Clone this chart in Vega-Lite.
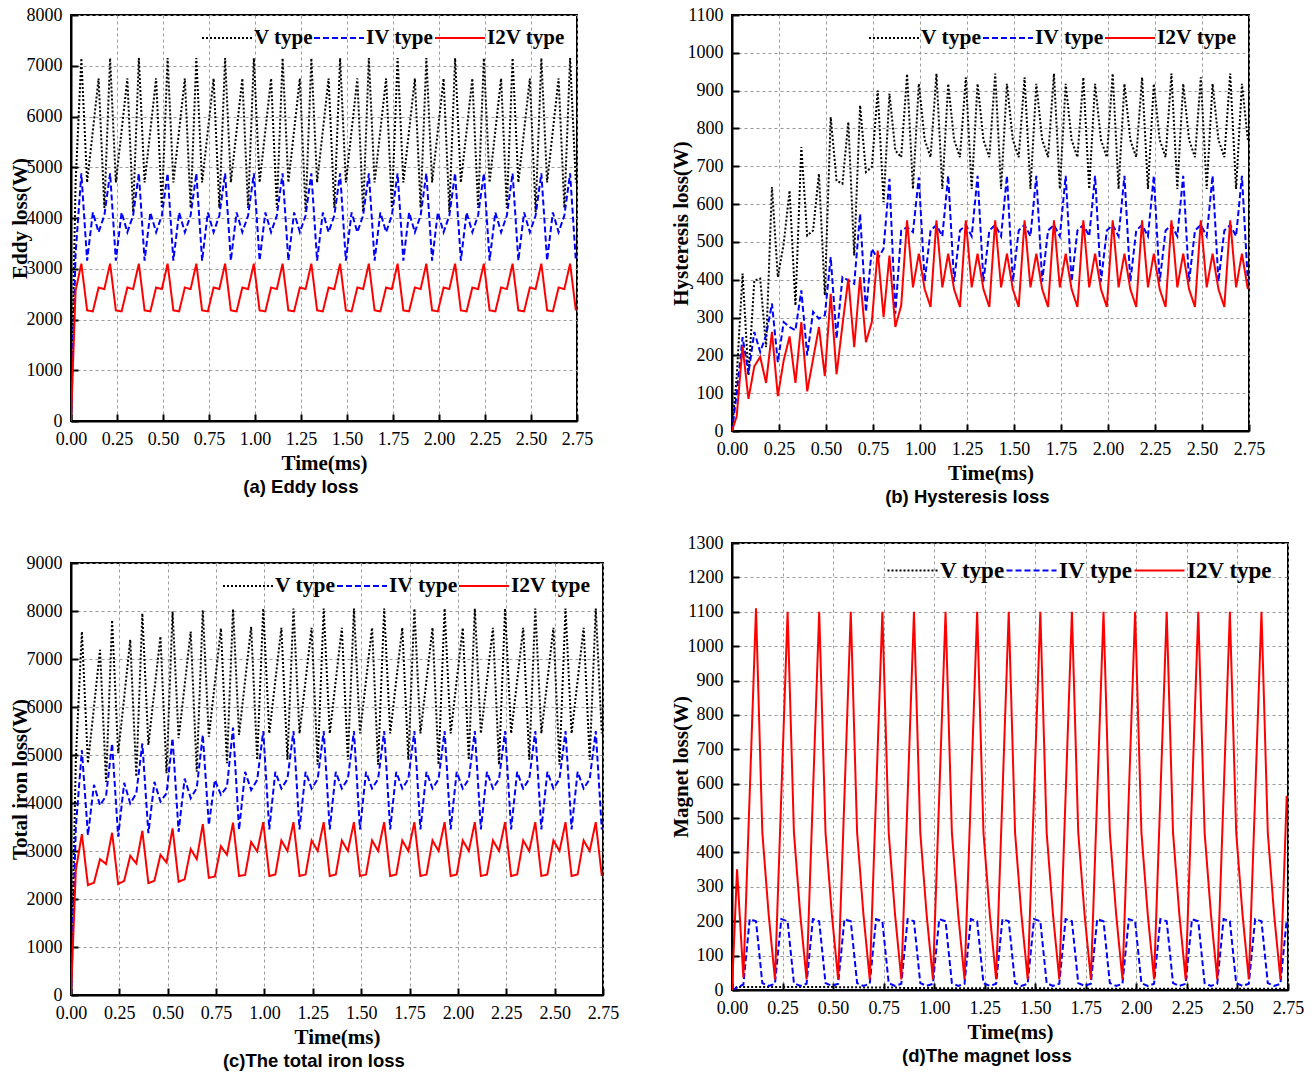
{
"$schema": "https://vega.github.io/schema/vega-lite/v6.json",
"background": "white",
"padding": {"top": 5, "left": 8, "right": 5, "bottom": 5},
"datasets": {"d": [
{"t":0,"aV":0,"aIV":0,"aI2V":0,"bV":0,"bIV":0,"bI2V":0,"cV":0,"cIV":0,"cI2V":0,"dV":0,"dIV":0,"dI2V":0},
{"t":0.025,"aV":4700,"aIV":3300,"aI2V":2570,"bV":143,"bIV":99,"bI2V":39,"cV":4900,"cIV":3500,"cI2V":2600,"dV":9,"dIV":7,"dI2V":351},
{"t":0.05625,"aV":7150,"aIV":4880,"aI2V":3100,"bV":416,"bIV":248,"bI2V":224,"cV":7570,"cIV":5100,"cI2V":3350,"dV":9,"dIV":16,"dI2V":36},
{"t":0.0875,"aV":4700,"aIV":3160,"aI2V":2180,"bV":147,"bIV":152,"bI2V":85,"cV":4830,"cIV":3330,"cI2V":2290,"dV":9,"dIV":206,"dI2V":570},
{"t":0.11875,"aV":5720,"aIV":4110,"aI2V":2160,"bV":398,"bIV":262,"bI2V":171,"cV":6000,"cIV":4380,"cI2V":2340,"dV":9,"dIV":200,"dI2V":1110},
{"t":0.15,"aV":6750,"aIV":3720,"aI2V":2630,"bV":403,"bIV":209,"bI2V":196,"cV":7190,"cIV":3950,"cI2V":2830,"dV":9,"dIV":20,"dI2V":458},
{"t":0.18125,"aV":4200,"aIV":4050,"aI2V":2600,"bV":222,"bIV":253,"bI2V":127,"cV":4440,"cIV":4150,"cI2V":2730,"dV":9,"dIV":12,"dI2V":220},
{"t":0.2125,"aV":7150,"aIV":4880,"aI2V":3100,"bV":645,"bIV":337,"bI2V":262,"cV":7810,"cIV":5240,"cI2V":3380,"dV":9,"dIV":18,"dI2V":31},
{"t":0.24375,"aV":4700,"aIV":3160,"aI2V":2180,"bV":407,"bIV":182,"bI2V":92,"cV":5040,"cIV":3300,"cI2V":2310,"dV":9,"dIV":206,"dI2V":565},
{"t":0.275,"aV":5720,"aIV":4110,"aI2V":2160,"bV":495,"bIV":288,"bI2V":187,"cV":6200,"cIV":4420,"cI2V":2380,"dV":9,"dIV":200,"dI2V":1100},
{"t":0.30625,"aV":6750,"aIV":3720,"aI2V":2630,"bV":636,"bIV":275,"bI2V":250,"cV":7400,"cIV":3990,"cI2V":2900,"dV":9,"dIV":20,"dI2V":458},
{"t":0.3375,"aV":4120,"aIV":4050,"aI2V":2600,"bV":332,"bIV":266,"bI2V":127,"cV":4550,"cIV":4200,"cI2V":2740,"dV":9,"dIV":12,"dI2V":220},
{"t":0.36875,"aV":7150,"aIV":4880,"aI2V":3100,"bV":751,"bIV":372,"bI2V":288,"cV":7950,"cIV":5240,"cI2V":3420,"dV":9,"dIV":18,"dI2V":31},
{"t":0.4,"aV":4700,"aIV":3160,"aI2V":2180,"bV":517,"bIV":200,"bI2V":105,"cV":5210,"cIV":3370,"cI2V":2330,"dV":9,"dIV":206,"dI2V":565},
{"t":0.43125,"aV":5720,"aIV":4110,"aI2V":2160,"bV":530,"bIV":315,"bI2V":190,"cV":6350,"cIV":4440,"cI2V":2380,"dV":9,"dIV":200,"dI2V":1100},
{"t":0.4625,"aV":6750,"aIV":3720,"aI2V":2630,"bV":680,"bIV":297,"bI2V":275,"cV":7470,"cIV":4030,"cI2V":2920,"dV":9,"dIV":20,"dI2V":458},
{"t":0.49375,"aV":4200,"aIV":4050,"aI2V":2600,"bV":359,"bIV":306,"bI2V":145,"cV":4620,"cIV":4200,"cI2V":2760,"dV":9,"dIV":12,"dI2V":220},
{"t":0.525,"aV":7150,"aIV":4880,"aI2V":3100,"bV":830,"bIV":460,"bI2V":363,"cV":7990,"cIV":5350,"cI2V":3470,"dV":8,"dIV":18,"dI2V":31},
{"t":0.55625,"aV":4700,"aIV":3160,"aI2V":2180,"bV":662,"bIV":244,"bI2V":150,"cV":5350,"cIV":3400,"cI2V":2360,"dV":8,"dIV":206,"dI2V":565},
{"t":0.5875,"aV":5720,"aIV":4110,"aI2V":2160,"bV":654,"bIV":407,"bI2V":280,"cV":6450,"cIV":4510,"cI2V":2410,"dV":8,"dIV":200,"dI2V":1100},
{"t":0.61875,"aV":6750,"aIV":3720,"aI2V":2630,"bV":817,"bIV":398,"bI2V":403,"cV":7570,"cIV":4100,"cI2V":3040,"dV":8,"dIV":20,"dI2V":458},
{"t":0.65,"aV":4200,"aIV":4050,"aI2V":2600,"bV":464,"bIV":389,"bI2V":222,"cV":4650,"cIV":4310,"cI2V":2830,"dV":7,"dIV":12,"dI2V":220},
{"t":0.68125,"aV":7150,"aIV":4880,"aI2V":3100,"bV":861,"bIV":574,"bI2V":407,"cV":8020,"cIV":5420,"cI2V":3560,"dV":7,"dIV":18,"dI2V":31},
{"t":0.7125,"aV":4700,"aIV":3160,"aI2V":2180,"bV":685,"bIV":315,"bI2V":235,"cV":5380,"cIV":3540,"cI2V":2440,"dV":7,"dIV":206,"dI2V":565},
{"t":0.74375,"aV":5720,"aIV":4110,"aI2V":2160,"bV":698,"bIV":482,"bI2V":288,"cV":6500,"cIV":4480,"cI2V":2470,"dV":7,"dIV":200,"dI2V":1100},
{"t":0.775,"aV":6750,"aIV":3720,"aI2V":2630,"bV":900,"bIV":455,"bI2V":477,"cV":7640,"cIV":4170,"cI2V":3100,"dV":7,"dIV":20,"dI2V":458},
{"t":0.80625,"aV":4200,"aIV":4050,"aI2V":2600,"bV":605,"bIV":482,"bI2V":301,"cV":4830,"cIV":4340,"cI2V":2920,"dV":7,"dIV":12,"dI2V":220},
{"t":0.8375,"aV":7150,"aIV":4880,"aI2V":3100,"bV":892,"bIV":667,"bI2V":464,"cV":8040,"cIV":5570,"cI2V":3590,"dV":6,"dIV":18,"dI2V":31},
{"t":0.86875,"aV":4700,"aIV":3160,"aI2V":2180,"bV":742,"bIV":310,"bI2V":275,"cV":5420,"cIV":3440,"cI2V":2480,"dV":6,"dIV":206,"dI2V":565},
{"t":0.9,"aV":5720,"aIV":4110,"aI2V":2160,"bV":724,"bIV":530,"bI2V":332,"cV":6550,"cIV":4650,"cI2V":2500,"dV":6,"dIV":200,"dI2V":1100},
{"t":0.93125,"aV":6750,"aIV":3720,"aI2V":2630,"bV":944,"bIV":539,"bI2V":557,"cV":7670,"cIV":4270,"cI2V":3190,"dV":6,"dIV":20,"dI2V":458},
{"t":0.9625,"aV":4200,"aIV":4050,"aI2V":2600,"bV":640,"bIV":526,"bI2V":380,"cV":4900,"cIV":4480,"cI2V":2990,"dV":6,"dIV":12,"dI2V":220},
{"t":0.99375,"aV":7150,"aIV":4880,"aI2V":3100,"bV":918,"bIV":671,"bI2V":469,"cV":8050,"cIV":5500,"cI2V":3600,"dV":6,"dIV":18,"dI2V":31},
{"t":1.025,"aV":4700,"aIV":3160,"aI2V":2180,"bV":770,"bIV":395,"bI2V":375,"cV":5450,"cIV":3450,"cI2V":2480,"dV":5,"dIV":206,"dI2V":565},
{"t":1.05625,"aV":5720,"aIV":4110,"aI2V":2160,"bV":724,"bIV":530,"bI2V":328,"cV":6550,"cIV":4650,"cI2V":2510,"dV":5,"dIV":200,"dI2V":1100},
{"t":1.0875,"aV":6750,"aIV":3720,"aI2V":2630,"bV":945,"bIV":545,"bI2V":557,"cV":7650,"cIV":4300,"cI2V":3220,"dV":5,"dIV":20,"dI2V":458},
{"t":1.11875,"aV":4200,"aIV":4050,"aI2V":2600,"bV":640,"bIV":515,"bI2V":380,"cV":4900,"cIV":4500,"cI2V":3000,"dV":5,"dIV":12,"dI2V":220},
{"t":1.15,"aV":7150,"aIV":4880,"aI2V":3100,"bV":918,"bIV":675,"bI2V":469,"cV":8050,"cIV":5500,"cI2V":3600,"dV":5,"dIV":18,"dI2V":31},
{"t":1.18125,"aV":4700,"aIV":3160,"aI2V":2180,"bV":770,"bIV":395,"bI2V":375,"cV":5450,"cIV":3450,"cI2V":2480,"dV":5,"dIV":206,"dI2V":565},
{"t":1.2125,"aV":5720,"aIV":4110,"aI2V":2160,"bV":724,"bIV":530,"bI2V":328,"cV":6550,"cIV":4650,"cI2V":2510,"dV":5,"dIV":200,"dI2V":1100},
{"t":1.24375,"aV":6750,"aIV":3720,"aI2V":2630,"bV":935,"bIV":545,"bI2V":557,"cV":7650,"cIV":4300,"cI2V":3220,"dV":5,"dIV":20,"dI2V":458},
{"t":1.275,"aV":4120,"aIV":4050,"aI2V":2600,"bV":640,"bIV":515,"bI2V":380,"cV":4800,"cIV":4500,"cI2V":3000,"dV":5,"dIV":12,"dI2V":220},
{"t":1.30625,"aV":7150,"aIV":4880,"aI2V":3100,"bV":918,"bIV":675,"bI2V":469,"cV":8050,"cIV":5500,"cI2V":3600,"dV":5,"dIV":18,"dI2V":31},
{"t":1.3375,"aV":4700,"aIV":3160,"aI2V":2180,"bV":770,"bIV":395,"bI2V":375,"cV":5450,"cIV":3450,"cI2V":2480,"dV":5,"dIV":206,"dI2V":565},
{"t":1.36875,"aV":5720,"aIV":4110,"aI2V":2160,"bV":724,"bIV":530,"bI2V":328,"cV":6550,"cIV":4650,"cI2V":2510,"dV":5,"dIV":200,"dI2V":1100},
{"t":1.4,"aV":6750,"aIV":3720,"aI2V":2630,"bV":945,"bIV":545,"bI2V":557,"cV":7650,"cIV":4300,"cI2V":3220,"dV":5,"dIV":20,"dI2V":458},
{"t":1.43125,"aV":4200,"aIV":4050,"aI2V":2600,"bV":640,"bIV":515,"bI2V":380,"cV":4900,"cIV":4500,"cI2V":3000,"dV":5,"dIV":12,"dI2V":220},
{"t":1.4625,"aV":7150,"aIV":4880,"aI2V":3100,"bV":918,"bIV":675,"bI2V":469,"cV":8050,"cIV":5500,"cI2V":3600,"dV":5,"dIV":18,"dI2V":31},
{"t":1.49375,"aV":4700,"aIV":3160,"aI2V":2180,"bV":770,"bIV":395,"bI2V":375,"cV":5450,"cIV":3450,"cI2V":2480,"dV":5,"dIV":206,"dI2V":565},
{"t":1.525,"aV":5720,"aIV":4110,"aI2V":2160,"bV":724,"bIV":530,"bI2V":328,"cV":6550,"cIV":4650,"cI2V":2510,"dV":5,"dIV":200,"dI2V":1100},
{"t":1.55625,"aV":6750,"aIV":3720,"aI2V":2630,"bV":935,"bIV":545,"bI2V":557,"cV":7650,"cIV":4300,"cI2V":3220,"dV":5,"dIV":20,"dI2V":458},
{"t":1.5875,"aV":4120,"aIV":4050,"aI2V":2600,"bV":640,"bIV":515,"bI2V":380,"cV":4800,"cIV":4500,"cI2V":3000,"dV":4,"dIV":12,"dI2V":220},
{"t":1.61875,"aV":7150,"aIV":4880,"aI2V":3100,"bV":918,"bIV":675,"bI2V":469,"cV":8050,"cIV":5500,"cI2V":3600,"dV":4,"dIV":18,"dI2V":31},
{"t":1.65,"aV":4700,"aIV":3160,"aI2V":2180,"bV":770,"bIV":395,"bI2V":375,"cV":5450,"cIV":3450,"cI2V":2480,"dV":4,"dIV":206,"dI2V":565},
{"t":1.68125,"aV":5720,"aIV":4110,"aI2V":2160,"bV":724,"bIV":530,"bI2V":328,"cV":6550,"cIV":4650,"cI2V":2510,"dV":4,"dIV":200,"dI2V":1100},
{"t":1.7125,"aV":6750,"aIV":3720,"aI2V":2630,"bV":945,"bIV":545,"bI2V":557,"cV":7650,"cIV":4300,"cI2V":3220,"dV":4,"dIV":20,"dI2V":458},
{"t":1.74375,"aV":4200,"aIV":4050,"aI2V":2600,"bV":640,"bIV":515,"bI2V":380,"cV":4900,"cIV":4500,"cI2V":3000,"dV":4,"dIV":12,"dI2V":220},
{"t":1.775,"aV":7150,"aIV":4880,"aI2V":3100,"bV":918,"bIV":675,"bI2V":469,"cV":8050,"cIV":5500,"cI2V":3600,"dV":4,"dIV":18,"dI2V":31},
{"t":1.80625,"aV":4700,"aIV":3160,"aI2V":2180,"bV":770,"bIV":395,"bI2V":375,"cV":5450,"cIV":3450,"cI2V":2480,"dV":4,"dIV":206,"dI2V":565},
{"t":1.8375,"aV":5720,"aIV":4110,"aI2V":2160,"bV":724,"bIV":530,"bI2V":328,"cV":6550,"cIV":4650,"cI2V":2510,"dV":4,"dIV":200,"dI2V":1100},
{"t":1.86875,"aV":6750,"aIV":3720,"aI2V":2630,"bV":935,"bIV":545,"bI2V":557,"cV":7650,"cIV":4300,"cI2V":3220,"dV":4,"dIV":20,"dI2V":458},
{"t":1.9,"aV":4200,"aIV":4050,"aI2V":2600,"bV":640,"bIV":515,"bI2V":380,"cV":4800,"cIV":4500,"cI2V":3000,"dV":4,"dIV":12,"dI2V":220},
{"t":1.93125,"aV":7150,"aIV":4880,"aI2V":3100,"bV":918,"bIV":675,"bI2V":469,"cV":8050,"cIV":5500,"cI2V":3600,"dV":4,"dIV":18,"dI2V":31},
{"t":1.9625,"aV":4700,"aIV":3160,"aI2V":2180,"bV":770,"bIV":395,"bI2V":375,"cV":5450,"cIV":3450,"cI2V":2480,"dV":4,"dIV":206,"dI2V":565},
{"t":1.99375,"aV":5720,"aIV":4110,"aI2V":2160,"bV":724,"bIV":530,"bI2V":328,"cV":6550,"cIV":4650,"cI2V":2510,"dV":4,"dIV":200,"dI2V":1100},
{"t":2.025,"aV":6750,"aIV":3720,"aI2V":2630,"bV":945,"bIV":545,"bI2V":557,"cV":7650,"cIV":4300,"cI2V":3220,"dV":4,"dIV":20,"dI2V":458},
{"t":2.05625,"aV":4120,"aIV":4050,"aI2V":2600,"bV":640,"bIV":515,"bI2V":380,"cV":4900,"cIV":4500,"cI2V":3000,"dV":4,"dIV":12,"dI2V":220},
{"t":2.0875,"aV":7150,"aIV":4880,"aI2V":3100,"bV":918,"bIV":675,"bI2V":469,"cV":8050,"cIV":5500,"cI2V":3600,"dV":4,"dIV":18,"dI2V":31},
{"t":2.11875,"aV":4700,"aIV":3160,"aI2V":2180,"bV":770,"bIV":395,"bI2V":375,"cV":5450,"cIV":3450,"cI2V":2480,"dV":4,"dIV":206,"dI2V":565},
{"t":2.15,"aV":5720,"aIV":4110,"aI2V":2160,"bV":724,"bIV":530,"bI2V":328,"cV":6550,"cIV":4650,"cI2V":2510,"dV":4,"dIV":200,"dI2V":1100},
{"t":2.18125,"aV":6750,"aIV":3720,"aI2V":2630,"bV":935,"bIV":545,"bI2V":557,"cV":7650,"cIV":4300,"cI2V":3220,"dV":4,"dIV":20,"dI2V":458},
{"t":2.2125,"aV":4200,"aIV":4050,"aI2V":2600,"bV":640,"bIV":515,"bI2V":380,"cV":4800,"cIV":4500,"cI2V":3000,"dV":4,"dIV":12,"dI2V":220},
{"t":2.24375,"aV":7150,"aIV":4880,"aI2V":3100,"bV":918,"bIV":675,"bI2V":469,"cV":8050,"cIV":5500,"cI2V":3600,"dV":4,"dIV":18,"dI2V":31},
{"t":2.275,"aV":4700,"aIV":3160,"aI2V":2180,"bV":770,"bIV":395,"bI2V":375,"cV":5450,"cIV":3450,"cI2V":2480,"dV":4,"dIV":206,"dI2V":565},
{"t":2.30625,"aV":5720,"aIV":4110,"aI2V":2160,"bV":724,"bIV":530,"bI2V":328,"cV":6550,"cIV":4650,"cI2V":2510,"dV":4,"dIV":200,"dI2V":1100},
{"t":2.3375,"aV":6750,"aIV":3720,"aI2V":2630,"bV":945,"bIV":545,"bI2V":557,"cV":7650,"cIV":4300,"cI2V":3220,"dV":4,"dIV":20,"dI2V":458},
{"t":2.36875,"aV":4200,"aIV":4050,"aI2V":2600,"bV":640,"bIV":515,"bI2V":380,"cV":4900,"cIV":4500,"cI2V":3000,"dV":4,"dIV":12,"dI2V":220},
{"t":2.4,"aV":7150,"aIV":4880,"aI2V":3100,"bV":918,"bIV":675,"bI2V":469,"cV":8050,"cIV":5500,"cI2V":3600,"dV":4,"dIV":18,"dI2V":31},
{"t":2.43125,"aV":4700,"aIV":3160,"aI2V":2180,"bV":770,"bIV":395,"bI2V":375,"cV":5450,"cIV":3450,"cI2V":2480,"dV":4,"dIV":206,"dI2V":565},
{"t":2.4625,"aV":5720,"aIV":4110,"aI2V":2160,"bV":724,"bIV":530,"bI2V":328,"cV":6550,"cIV":4650,"cI2V":2510,"dV":4,"dIV":200,"dI2V":1100},
{"t":2.49375,"aV":6750,"aIV":3720,"aI2V":2630,"bV":935,"bIV":545,"bI2V":557,"cV":7650,"cIV":4300,"cI2V":3220,"dV":4,"dIV":20,"dI2V":458},
{"t":2.525,"aV":4120,"aIV":4050,"aI2V":2600,"bV":640,"bIV":515,"bI2V":380,"cV":4800,"cIV":4500,"cI2V":3000,"dV":4,"dIV":12,"dI2V":220},
{"t":2.55625,"aV":7150,"aIV":4880,"aI2V":3100,"bV":918,"bIV":675,"bI2V":469,"cV":8050,"cIV":5500,"cI2V":3600,"dV":4,"dIV":18,"dI2V":31},
{"t":2.5875,"aV":4700,"aIV":3160,"aI2V":2180,"bV":770,"bIV":395,"bI2V":375,"cV":5450,"cIV":3450,"cI2V":2480,"dV":4,"dIV":206,"dI2V":565},
{"t":2.61875,"aV":5720,"aIV":4110,"aI2V":2160,"bV":724,"bIV":530,"bI2V":328,"cV":6550,"cIV":4650,"cI2V":2510,"dV":4,"dIV":200,"dI2V":1100},
{"t":2.65,"aV":6750,"aIV":3720,"aI2V":2630,"bV":945,"bIV":545,"bI2V":557,"cV":7650,"cIV":4300,"cI2V":3220,"dV":4,"dIV":20,"dI2V":458},
{"t":2.68125,"aV":4200,"aIV":4050,"aI2V":2600,"bV":640,"bIV":515,"bI2V":380,"cV":4900,"cIV":4500,"cI2V":3000,"dV":4,"dIV":12,"dI2V":220},
{"t":2.7125,"aV":7150,"aIV":4880,"aI2V":3100,"bV":918,"bIV":675,"bI2V":469,"cV":8050,"cIV":5500,"cI2V":3600,"dV":4,"dIV":18,"dI2V":31},
{"t":2.74375,"aV":4700,"aIV":3160,"aI2V":2180,"bV":770,"bIV":395,"bI2V":375,"cV":5450,"cIV":3450,"cI2V":2480,"dV":4,"dIV":206,"dI2V":565}
]},
"config": {
  "view": {"stroke": "#000000", "strokeWidth": 2},
  "axis": {"grid": true, "gridColor": "#9a9a9a", "gridDash": [3, 3], "gridWidth": 1, "domainColor": "#000000", "domainWidth": 2, "tickColor": "#000000", "tickWidth": 2, "tickSize": -7, "labelPadding": 16, "labelFlush": false, "labelOverlap": false, "labelFont": "Liberation Serif", "labelFontSize": 18, "labelColor": "#000000", "titleFont": "Liberation Serif", "titleFontSize": 21, "titleFontWeight": "bold", "titleColor": "#000000"},
  "axisX": {"titlePadding": 4},
  "axisY": {"titlePadding": -4, "format": "d"},
  "legend": {"orient": "top-right", "direction": "horizontal", "gridAlign": "none", "symbolType": "M-2.5,0H2.5", "symbolSize": 400, "symbolStrokeWidth": 2, "labelFont": "Liberation Serif", "labelFontSize": 21, "labelFontWeight": "bold", "labelColor": "#000000", "labelOffset": 16, "columnPadding": -3, "padding": 0, "offset": 12},
  "title": {"orient": "bottom", "anchor": "middle", "frame": "bounds", "font": "Liberation Sans", "fontSize": 18.5, "fontWeight": "bold", "color": "#000000", "offset": 5},
  "line": {"strokeWidth": 2}
},
"resolve": {"scale": {"color": "independent", "strokeDash": "independent"}, "legend": {"color": "independent", "strokeDash": "independent"}},
"spacing": 49,
"hconcat": [
 {"spacing": 55,
  "resolve": {"scale": {"color": "independent", "strokeDash": "independent"}, "legend": {"color": "independent", "strokeDash": "independent"}},
  "vconcat": [
  {"width": 506, "height": 406, "data": {"name": "d"},
   "transform": [{"fold": ["aV", "aIV", "aI2V"], "as": ["s", "v"]}],
   "title": {"text": "(a) Eddy loss"},
   "mark": {"type": "line", "clip": true},
   "encoding": {
     "x": {"field": "t", "type": "quantitative", "scale": {"domain": [0, 2.75], "nice": false, "zero": false}, "axis": {"title": "Time(ms)", "format": ".2f", "values": [0, 0.25, 0.5, 0.75, 1, 1.25, 1.5, 1.75, 2, 2.25, 2.5, 2.75]}},
     "y": {"field": "v", "type": "quantitative", "scale": {"domain": [0, 8000], "nice": false}, "axis": {"title": "Eddy loss(W)", "format": "d", "values": [0, 1000, 2000, 3000, 4000, 5000, 6000, 7000, 8000]}},
     "color": {"field": "s", "type": "nominal", "scale": {"domain": ["aV", "aIV", "aI2V"], "range": ["#000000", "#0000ff", "#ff0000"]}, "legend": {"title": null, "symbolType": "M-2.5,0H2.5", "labelExpr": "substring(datum.label, 1) + ' type'"}},
     "strokeDash": {"field": "s", "type": "nominal", "scale": {"domain": ["aV", "aIV", "aI2V"], "range": [[2, 2], [6, 3], [1, 0]]}, "legend": {"title": null, "symbolType": "M-2.5,0H2.5", "labelExpr": "substring(datum.label, 1) + ' type'"}}
   }},
  {"width": 532, "height": 432, "data": {"name": "d"},
   "transform": [{"fold": ["cV", "cIV", "cI2V"], "as": ["s", "v"]}],
   "title": {"text": "(c)The total iron loss"},
   "mark": {"type": "line", "clip": true},
   "encoding": {
     "x": {"field": "t", "type": "quantitative", "scale": {"domain": [0, 2.75], "nice": false, "zero": false}, "axis": {"title": "Time(ms)", "format": ".2f", "values": [0, 0.25, 0.5, 0.75, 1, 1.25, 1.5, 1.75, 2, 2.25, 2.5, 2.75]}},
     "y": {"field": "v", "type": "quantitative", "scale": {"domain": [0, 9000], "nice": false}, "axis": {"title": "Total iron loss(W)", "format": "d", "values": [0, 1000, 2000, 3000, 4000, 5000, 6000, 7000, 8000, 9000]}},
     "color": {"field": "s", "type": "nominal", "scale": {"domain": ["cV", "cIV", "cI2V"], "range": ["#000000", "#0000ff", "#ff0000"]}, "legend": {"title": null, "labelFontSize": 21.5, "symbolType": "M-2.5,0H2.5", "labelExpr": "substring(datum.label, 1) + ' type'"}},
     "strokeDash": {"field": "s", "type": "nominal", "scale": {"domain": ["cV", "cIV", "cI2V"], "range": [[2, 2], [6, 3], [1, 0]]}, "legend": {"title": null, "labelFontSize": 21.5, "symbolType": "M-2.5,0H2.5", "labelExpr": "substring(datum.label, 1) + ' type'"}}
   }}
 ]},
 {"spacing": 25,
  "resolve": {"scale": {"color": "independent", "strokeDash": "independent"}, "legend": {"color": "independent", "strokeDash": "independent"}},
  "vconcat": [
  {"width": 517, "height": 416, "data": {"name": "d"},
   "transform": [{"fold": ["bV", "bIV", "bI2V"], "as": ["s", "v"]}],
   "title": {"text": "(b) Hysteresis loss"},
   "mark": {"type": "line", "clip": true},
   "encoding": {
     "x": {"field": "t", "type": "quantitative", "scale": {"domain": [0, 2.75], "nice": false, "zero": false}, "axis": {"title": "Time(ms)", "format": ".2f", "values": [0, 0.25, 0.5, 0.75, 1, 1.25, 1.5, 1.75, 2, 2.25, 2.5, 2.75]}},
     "y": {"field": "v", "type": "quantitative", "scale": {"domain": [0, 1100], "nice": false}, "axis": {"title": "Hysteresis loss(W)", "format": "d", "values": [0, 100, 200, 300, 400, 500, 600, 700, 800, 900, 1000, 1100]}},
     "color": {"field": "s", "type": "nominal", "scale": {"domain": ["bV", "bIV", "bI2V"], "range": ["#000000", "#0000ff", "#ff0000"]}, "legend": {"title": null, "labelFontSize": 21.5, "symbolType": "M-2.5,0H2.5", "labelExpr": "substring(datum.label, 1) + ' type'"}},
     "strokeDash": {"field": "s", "type": "nominal", "scale": {"domain": ["bV", "bIV", "bI2V"], "range": [[2, 2], [6, 3], [1, 0]]}, "legend": {"title": null, "labelFontSize": 21.5, "symbolType": "M-2.5,0H2.5", "labelExpr": "substring(datum.label, 1) + ' type'"}}
   }},
  {"width": 556, "height": 447, "data": {"name": "d"},
   "transform": [{"fold": ["dV", "dIV", "dI2V"], "as": ["s", "v"]}],
   "title": {"text": "(d)The magnet loss"},
   "mark": {"type": "line", "clip": true},
   "encoding": {
     "x": {"field": "t", "type": "quantitative", "scale": {"domain": [0, 2.75], "nice": false, "zero": false}, "axis": {"title": "Time(ms)", "format": ".2f", "values": [0, 0.25, 0.5, 0.75, 1, 1.25, 1.5, 1.75, 2, 2.25, 2.5, 2.75]}},
     "y": {"field": "v", "type": "quantitative", "scale": {"domain": [0, 1300], "nice": false}, "axis": {"title": "Magnet loss(W)", "format": "d", "values": [0, 100, 200, 300, 400, 500, 600, 700, 800, 900, 1000, 1100, 1200, 1300]}},
     "color": {"field": "s", "type": "nominal", "scale": {"domain": ["dV", "dIV", "dI2V"], "range": ["#000000", "#0000ff", "#ff0000"]}, "legend": {"title": null, "offset": 16, "labelFontSize": 23, "symbolType": "M-2.5,0H2.5", "labelExpr": "substring(datum.label, 1) + ' type'"}},
     "strokeDash": {"field": "s", "type": "nominal", "scale": {"domain": ["dV", "dIV", "dI2V"], "range": [[2, 2], [6, 3], [1, 0]]}, "legend": {"title": null, "offset": 16, "labelFontSize": 23, "symbolType": "M-2.5,0H2.5", "labelExpr": "substring(datum.label, 1) + ' type'"}}
   }}
 ]}
]
}
